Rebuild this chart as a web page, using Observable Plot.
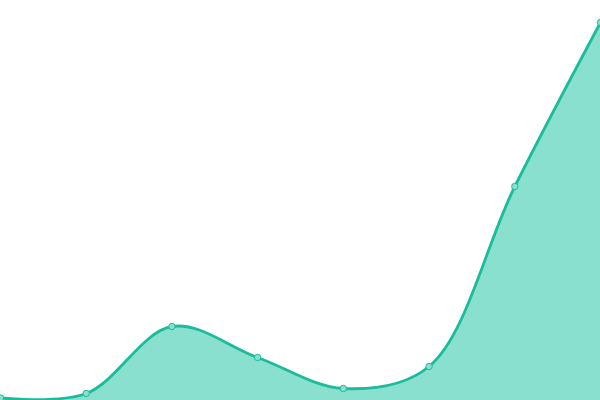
<!DOCTYPE html>
<html><head><meta charset="utf-8">
<script src="https://cdn.jsdelivr.net/npm/d3@7"></script>
<script src="https://cdn.jsdelivr.net/npm/@observablehq/plot@0.6"></script>
<style>body{margin:0;background:#fff;overflow:hidden} svg{overflow:hidden}</style>
</head><body><div id="chart"></div>
<script>
const idx = [0, 1, 2, 3, 4, 5, 6, 7];
const values = [2.5, 7, 74, 43, 12, 34, 214, 378];
const data = idx.map((i) => ({i, v: values[i]}));
const chart = Plot.plot({
  width: 600, height: 400,
  margin: 0,
  x: {domain: [0, 7], axis: null},
  y: {domain: [0, 400], axis: null},
  marks: [
    Plot.areaY(data, {x: "i", y: "v", fill: "#8ae0cf", curve: "catmull-rom"}),
    Plot.lineY(data, {x: "i", y: "v", stroke: "#1abc9c", strokeWidth: 2.8, curve: "catmull-rom"}),
    Plot.dot(data, {x: "i", y: "v", r: 3.2, fill: "#8ae0cf", stroke: "#1abc9c", strokeWidth: 1})
  ]
});
document.getElementById("chart").append(chart);
</script></body></html>
